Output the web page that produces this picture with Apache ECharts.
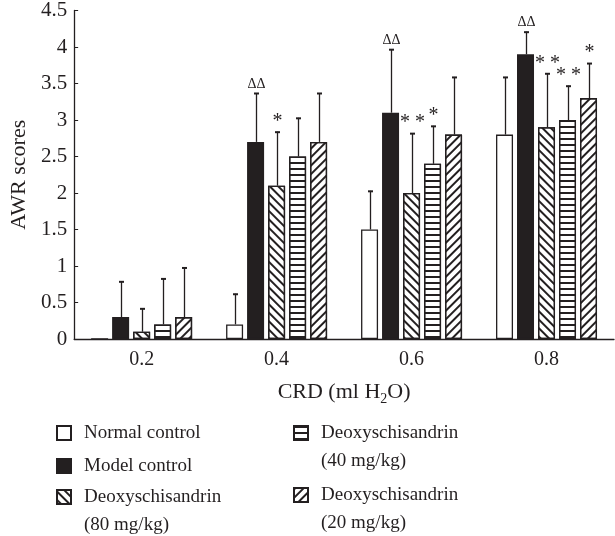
<!DOCTYPE html>
<html>
<head>
<meta charset="utf-8">
<script src="https://cdn.jsdelivr.net/npm/echarts@6/dist/echarts.min.js"></script>
<style>
html, body { margin: 0; padding: 0; background: #fff; }
#chart { width: 615px; height: 536px; }
</style>
</head>
<body>
<div id="chart"></div>
<script>
// CRD levels on the x axis
var categories = ['0.2', '0.4', '0.6', '0.8'];

// group means and SDs (AWR scores)
var normalMean = [0, 0.2, 1.5, 2.8];
var normalSd   = [0, 0.42, 0.53, 0.79];
var modelMean  = [0.3, 2.7, 3.1, 3.9];
var modelSd    = [0.49, 0.67, 0.87, 0.31];
var d80Mean    = [0.1, 2.1, 2.0, 2.9];
var d80Sd      = [0.32, 0.74, 0.82, 0.74];
var d40Mean    = [0.2, 2.5, 2.4, 3.0];
var d40Sd      = [0.63, 0.53, 0.52, 0.47];
var d20Mean    = [0.3, 2.7, 2.8, 3.3];
var d20Sd      = [0.68, 0.67, 0.79, 0.48];

// significance marks above the error bars
var normalMarks = ['', '', '', ''];
var modelMarks  = ['', '\u0394\u0394', '\u0394\u0394', '\u0394\u0394'];
var d80Marks    = ['', '*', '* *', '* *'];
var d40Marks    = ['', '', '*', '* *'];
var d20Marks    = ['', '', '', '*'];

var names = ['Normal control', 'Model control', 'Deoxyschisandrin (80 mg/kg)',
             'Deoxyschisandrin (40 mg/kg)', 'Deoxyschisandrin (20 mg/kg)'];

var FONT = '"Liberation Serif", "DejaVu Serif", serif';
var INK = '#231f20';
var barW = 17;
var gapPx = 4;

var chart = echarts.init(document.getElementById('chart'));

function hatch(rot, gap) {
	return {
		symbol: 'rect',
		symbolSize: 1,
		dashArrayX: [1, 0],
		dashArrayY: [1.1, gap],
		rotation: rot,
		color: INK
	};
}

var barStyles = [
	{ color: '#fff', borderColor: INK, borderWidth: 1.3 },
	{ color: INK, borderColor: INK, borderWidth: 1.3 },
	{ color: '#fff', borderColor: INK, borderWidth: 1.3, decal: hatch(Math.PI / 4, 3.4) },
	{ color: '#fff', borderColor: INK, borderWidth: 1.3, decal: hatch(0, 4) },
	{ color: '#fff', borderColor: INK, borderWidth: 1.3, decal: hatch(-Math.PI / 4, 3.4) }
];

function barSeries(k, means) {
	return {
		name: names[k],
		type: 'bar',
		barWidth: barW,
		barGap: (gapPx / barW * 100) + '%',
		itemStyle: barStyles[k],
		emphasis: { disabled: true },
		data: means
	};
}

function errorSeries(k, means, sds, marks) {
	var data = [];
	for (var i = 0; i < means.length; i++) data.push([i, means[i], sds[i]]);
	return {
		type: 'custom',
		silent: true,
		z: 5,
		encode: { x: 0, y: 1 },
		data: data,
		renderItem: function (params, api) {
			var sd = api.value(2);
			if (!sd) return;
			var mean = api.value(1);
			var base = api.coord([api.value(0), mean]);
			var top = api.coord([api.value(0), mean + sd]);
			var x = Math.round(base[0] + (k - 2) * (barW + gapPx)) + 0.5;
			var mark = marks[params.dataIndex];
			var isDelta = mark.indexOf('\u0394') >= 0;
			return {
				type: 'group',
				children: [
					{ type: 'line', shape: { x1: x, y1: base[1], x2: x, y2: top[1] },
					  style: { stroke: INK, lineWidth: 1.3 } },
					{ type: 'line', shape: { x1: x - 2.5, y1: top[1] + 0.5, x2: x + 2.5, y2: top[1] + 0.5 },
					  style: { stroke: INK, lineWidth: 2 } },
					{ type: 'text', x: x, y: isDelta ? top[1] - 2 : top[1] + 0,
					  style: { text: mark, align: 'center', verticalAlign: 'bottom',
					           fontFamily: FONT, fontSize: isDelta ? 14 : 20, fill: INK } }
				]
			};
		}
	};
}

function legendAt(name, left, top, twoLines) {
	return {
		data: [{ name: name, icon: 'rect' }],
		left: left,
		top: top,
		padding: 0,
		itemWidth: 14,
		itemHeight: 14,
		selectedMode: false,
		formatter: function (n) {
			return twoLines ? '\n' + n.replace(' (', '\n(') : n;
		},
		textStyle: {
			fontFamily: FONT, fontSize: 19, color: INK, lineHeight: 28,
			padding: [0, 0, 0, 8]
		}
	};
}

var option = {
	animation: false,
	backgroundColor: '#fff',
	grid: { left: 70, right: 1, top: 8, bottom: 197, containLabel: false },
	legend: [
		legendAt(names[0], 56, 419, false),
		legendAt(names[1], 56, 452, false),
		legendAt(names[2], 56, 455, true),
		legendAt(names[3], 293, 391, true),
		legendAt(names[4], 293, 453, true)
	],
	xAxis: {
		type: 'category',
		data: categories,
		name: 'CRD (ml H{sub|2}O)',
		nameLocation: 'middle',
		nameGap: 40,
		nameTextStyle: {
			fontFamily: FONT, fontSize: 22, color: INK,
			rich: { sub: { fontFamily: FONT, fontSize: 14, color: INK, padding: [13, 0, 0, 0] } }
		},
		axisLine: { lineStyle: { color: INK, width: 1.3 } },
		axisTick: { show: false },
		axisLabel: { fontFamily: FONT, fontSize: 20, color: INK, margin: 11 }
	},
	yAxis: {
		type: 'value',
		min: 0,
		max: 4.5,
		interval: 0.5,
		name: 'AWR scores',
		nameLocation: 'middle',
		nameGap: 38,
		nameTextStyle: { fontFamily: FONT, fontSize: 22, color: INK },
		axisLine: { show: true, lineStyle: { color: INK, width: 1.3 } },
		axisTick: { show: true, inside: true, length: 4, lineStyle: { color: INK } },
		splitLine: { show: false },
		axisLabel: { fontFamily: FONT, fontSize: 21, color: INK, margin: 7 }
	},
	series: [
		barSeries(0, normalMean),
		barSeries(1, modelMean),
		barSeries(2, d80Mean),
		barSeries(3, d40Mean),
		barSeries(4, d20Mean),
		errorSeries(0, normalMean, normalSd, normalMarks),
		errorSeries(1, modelMean, modelSd, modelMarks),
		errorSeries(2, d80Mean, d80Sd, d80Marks),
		errorSeries(3, d40Mean, d40Sd, d40Marks),
		errorSeries(4, d20Mean, d20Sd, d20Marks)
	]
};

chart.setOption(option);
</script>
</body>
</html>
